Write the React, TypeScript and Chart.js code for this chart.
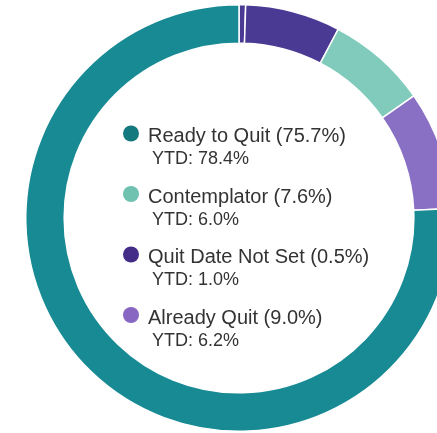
import React, { useEffect, useRef } from "react";
import { Chart, registerables } from "chart.js";

Chart.register(...registerables);

const sliceLabels = ["Quit Date Not Set (sliver)", "Unlabelled", "Contemplator", "Already Quit", "Ready to Quit"];
const sliceValues = [0.5, 7.2, 7.6, 9.0, 75.7];
const sliceColors = ["#4b3a93", "#4b3a93", "#80cbbb", "#8a70c4", "#178a94"];

const legendNames = ["Ready to Quit", "Contemplator", "Quit Date Not Set", "Already Quit"];
const legendCurrent = ["75.7%", "7.6%", "0.5%", "9.0%"];
const legendYtd = ["78.4%", "6.0%", "1.0%", "6.2%"];
const legendColors = ["#13797f", "#6fc2b0", "#432d86", "#8767c1"];

export default function App() {
  const ref = useRef<HTMLCanvasElement | null>(null);

  useEffect(() => {
    if (!ref.current) return;
    const centerLegend = {
      id: "centerLegend",
      afterDraw(chart: any) {
        const ctx = chart.ctx as CanvasRenderingContext2D;
        const ox = -25;
        const oy = -4;
        ctx.save();
        legendNames.forEach((name, i) => {
          const base = 142 + i * 60.5;
          ctx.beginPath();
          ctx.fillStyle = legendColors[i];
          ctx.arc(131 + ox, base - 8.5 + oy, 8, 0, Math.PI * 2);
          ctx.fill();
          ctx.fillStyle = "#333333";
          ctx.textBaseline = "alphabetic";
          ctx.textAlign = "left";
          ctx.font = '20px "Liberation Sans", Arial, sans-serif';
          ctx.fillText(`${name} (${legendCurrent[i]})`, 148 + ox, base + oy);
          ctx.font = '18px "Liberation Sans", Arial, sans-serif';
          ctx.fillText(`YTD: ${legendYtd[i]}`, 152 + ox, base + 22 + oy);
        });
        ctx.restore();
      },
    };
    const chart = new Chart(ref.current, {
      type: "doughnut",
      data: {
        labels: sliceLabels,
        datasets: [
          {
            data: sliceValues,
            backgroundColor: sliceColors,
            borderColor: "#ffffff",
            borderWidth: 1.5,
          },
        ],
      },
      options: {
        responsive: false,
        animation: false,
        cutout: "82%",
        layout: { padding: 0 },
        plugins: {
          legend: { display: false },
          tooltip: { enabled: false },
        },
      },
      plugins: [centerLegend],
    });
    return () => chart.destroy();
  }, []);

  return (
    <div
      style={{
        position: "fixed",
        left: 0,
        top: 0,
        width: 437,
        height: 433,
        overflow: "hidden",
        background: "#ffffff",
      }}
    >
      <canvas
        ref={ref}
        width={428}
        height={428}
        style={{ position: "absolute", left: 25, top: 4, width: 428, height: 428 }}
      />
    </div>
  );
}
